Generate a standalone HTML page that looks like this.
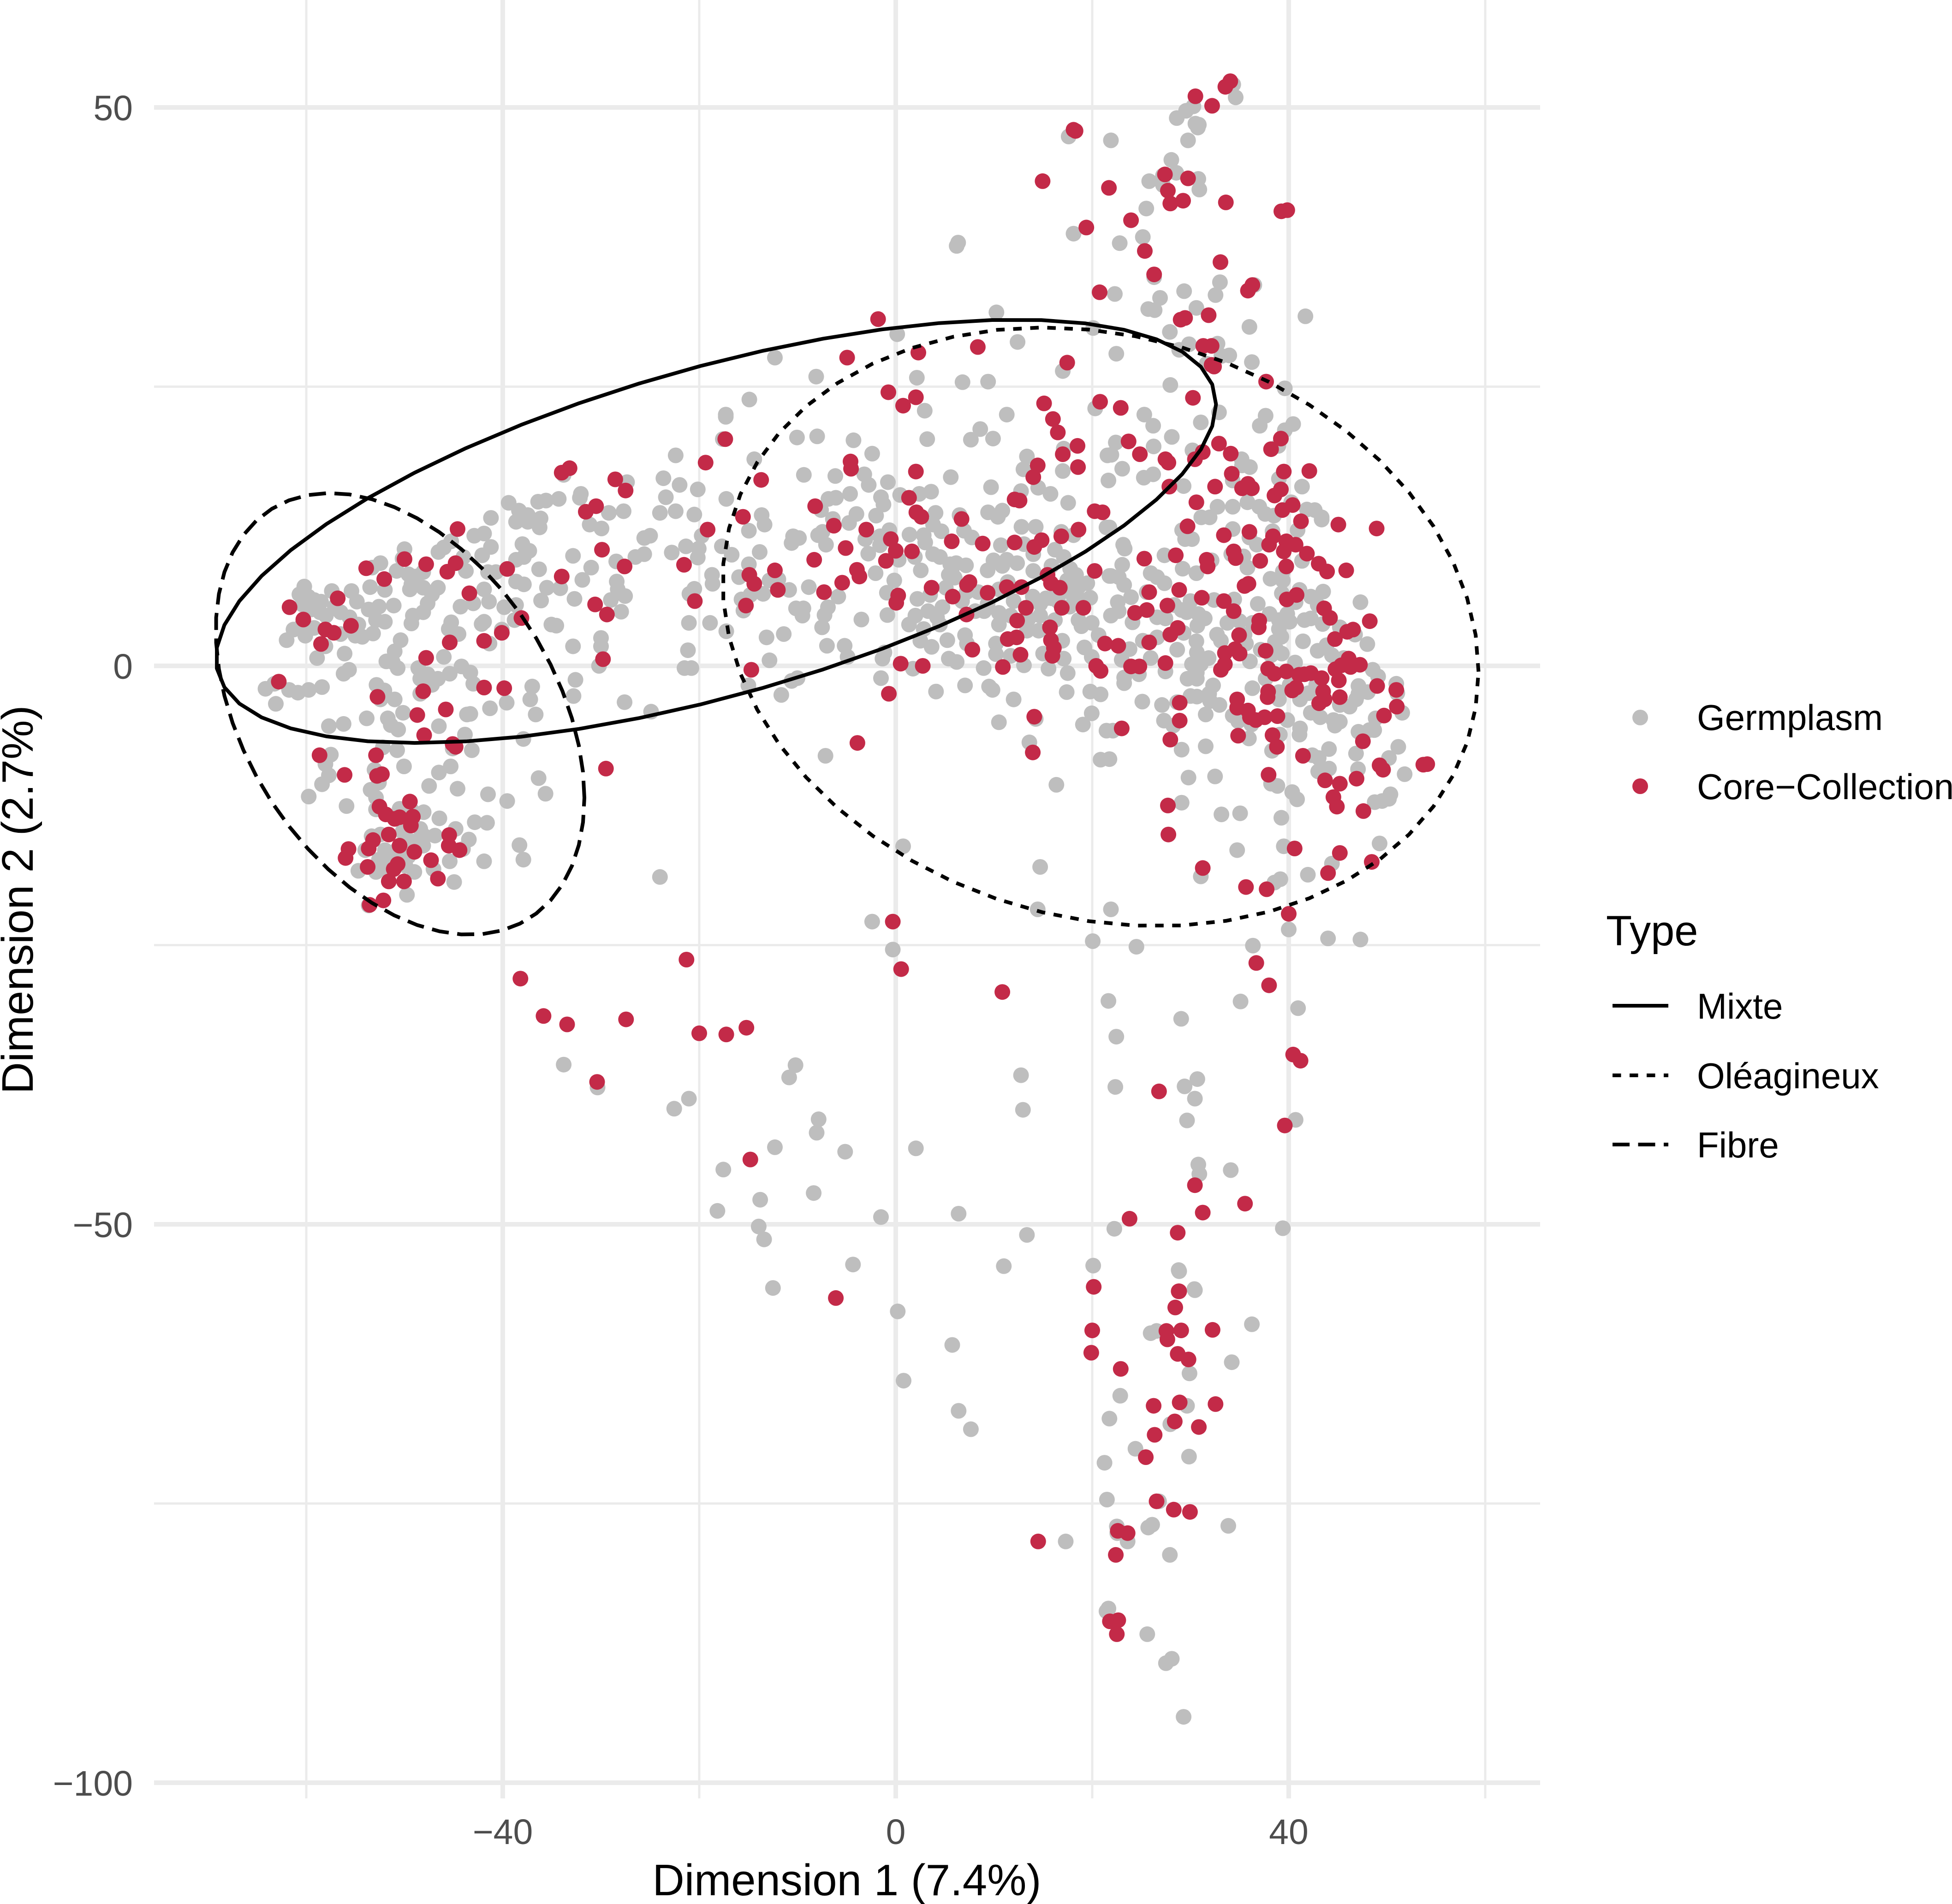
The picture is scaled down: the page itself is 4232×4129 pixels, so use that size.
<!DOCTYPE html>
<html lang="en">
<head>
<meta charset="utf-8">
<title>Core collection vs germplasm scatter plot</title>
<style>
html,body{margin:0;padding:0;background:#fff;width:4232px;height:4129px;overflow:hidden}
svg{display:block}
text{font-family:"Liberation Sans",sans-serif}
.tick{font-size:77px;fill:#4D4D4D}
.title{font-size:96px;fill:#000}
.leg{font-size:78px;fill:#000}
</style>
</head>
<body>
<svg id="chart" xmlns="http://www.w3.org/2000/svg" width="4232" height="4129" viewBox="0 0 4232 4129">
<rect x="0" y="0" width="4232" height="4129" fill="#fff"/>
<g id="grid"></g>
<g id="germplasm"></g>
<g id="core"></g>
<g id="ellipses"></g>
<g id="ticks"></g>
<text class="title" x="1836" y="4110" text-anchor="middle">Dimension 1 (7.4%)</text>
<text class="title" transform="translate(71,1951) rotate(-90)" text-anchor="middle">Dimension 2 (2.7%)</text>
<g>
<circle cx="3556" cy="1556" r="17" fill="#BEBEBE"/>
<text class="leg" x="3679" y="1583">Germplasm</text>
<circle cx="3556" cy="1705" r="17" fill="#C32A48"/>
<text class="leg" x="3679" y="1733">Core−Collection</text>
</g>
<g>
<text x="3482" y="2050" font-size="92" fill="#000">Type</text>
<line x1="3496" x2="3617" y1="2181" y2="2181" stroke="#000" stroke-width="8"/>
<text class="leg" x="3679" y="2209">Mixte</text>
<line x1="3496" x2="3617" y1="2332" y2="2332" stroke="#000" stroke-width="8" stroke-dasharray="18.5 18.5"/>
<text class="leg" x="3679" y="2360">Oléagineux</text>
<line x1="3496" x2="3617" y1="2482" y2="2482" stroke="#000" stroke-width="8" stroke-dasharray="37 18.5"/>
<text class="leg" x="3679" y="2510">Fibre</text>
</g>
</svg>
<script>
const xMajorTicks=[-40,0,40];
const xMinorTicks=[-60,-20,20,60];
const yMajorTicks=[50,0,-50,-100];
const yMinorTicks=[25,-25,-75];
const xTickLabels=["−40","0","40"];
const yTickLabels=["50","0","−50","−100"];
const ellipseNames=["mixte","oleagineux","fibre"];
const ellipseCenterX=[-18.3,20.85,-50.45];
const ellipseCenterY=[12.05,3.5,-4.3];
const ellipseRadiusX=[50.9,38.47,18.76];
const ellipseRadiusY=[18.95,26.8,19.77];
const ellipseCorrelation=[0.6,-0.15,-0.38];
const germplasmPoints=[
[-60.2,7.1],[-60.7,6.4],[-59.8,6.2],[-60.4,5.5],[-59.2,5.9],[-58.5,5.75],[-59.5,5.05],[-58.6,4.8],[-57.4,6.7],[-57.1,5.3],[-58,4.5],[-56.5,4.8],[-55.4,6.7],[-54.85,5.75],[-55.6,4.35],[-54.7,3.7],[-61.3,3.25],[-60.4,3.7],[-60.1,2.7],[-59.2,3.4],[-62,2.3],[-56.5,2.85],[-55,2.7],[-54.3,2.6],[-53.2,2.9],[-53.65,5.05],[-52.6,5.3],[-51.1,5.4],[-52.9,4.1],[-52,3.95],[-58.05,1.75],[-58.9,0.7],[-56.1,1.1],[-55.65,-0.35],[-56.2,-0.7],
[-53.3,8.8],[-52.45,9.2],[-53.5,7.05],[-52,6.8],[-50.8,8.5],[-50,10.45],[-50.2,9.6],[-49.6,8.2],[-48.85,8],[-49.3,7.3],[-48.1,8.4],[-49.45,6.85],[-48.1,7],[-46.6,7],[-47.2,6.4],[-47.65,5.6],[-48.1,4.8],[-49.15,4.5],[-49.3,3.8],[-46.55,10.2],[-46,10.6],[-45.25,11.15],[-42.9,11.65],[-41.9,11.85],[-41.2,10.65],[-42.1,9.9],[-44,9.75],[-43.75,8.5],[-41.5,8.4],[-40.7,8.4],[-41.9,6.85],[-41.4,5.75],[-43,5.6],[-44.3,5.3],[-39.85,5.25],[-38.65,5.45],[-38.8,4.1],[-42.15,3.75],[-41.9,3.95],[-40.1,3.25],[-41.35,2],[-45.25,3.9],[-45.5,3.3],[-44.5,2.85],
[-50.4,2.3],[-51,1.3],[-51.85,0.4],[-50.7,-0.2],[-51.2,0.35],[-46,0.8],[-48.6,-0.2],[-47.65,-0.75],[-48.4,-1.15],[-46.6,-1.15],[-47.2,-1.7],[-45.4,-0.7],[-44.2,-0.05],[-43.3,-0.6],[-43,-1.6],[-48.4,-2.5],[-52.85,-1.7],[-52.05,-2.2],[-52.45,-3],[-51,-3],[-50.15,-4.2],[-53.85,-4.7],[-51.7,-4.7],[-51.4,-5.3],[-50.65,-5.7],[-46.5,-5.4],[-43.65,-4.35],[-43.3,-4.3],[-41.3,-3.8],[-39.6,-3.3],[-37.2,-3],[-37,-1.85],[-36.65,-4.35],[-32.6,-1.25],[-32.8,-2.7],[-27.6,-3.25],[-57.7,-5.4],[-56.2,-5.2],[-43.85,-6.15],[-37.9,-6.55],[-52.2,-7.3],[-50.75,-7.55],[-43.15,-7.55],[-45.1,-7.4],[-57.5,-7.95],[-58.05,-8.8],[-57.7,-9.8],[-58.4,-10.6],[-59.75,-11.7],[-55.9,-12.55],[-50.05,-9],[-45.3,-9],[-46.5,-9.55],[-36.35,-10.05],[-35.65,-11.45],[-41.5,-11.5],[-39.55,-12.1],[-44.6,-11],[-47.5,-10.75],[-53.05,-9.3],[-52.6,-10.45],[-53.45,-11.1],[-52.9,-11.8],[-52.9,-12.85],[-64.15,-2.05],[-63.25,-1.6],[-63.1,-3.4],[-61.75,-2.15],[-60.85,-2.4],[-59.75,-2.15],[-58.4,-1.9],
[-39.4,14.6],[-38.35,13.9],[-38.65,12.9],[-37.45,12.9],[-37.45,13.5],[-36.4,14.7],[-35.6,14.8],[-34.3,14.95],[-36.15,13.2],[-36.25,12.4],[-41.2,13.25],[-38,10.9],[-37.3,10.3],[-38.65,9.5],[-37.85,9.75],[-38.65,7.55],[-37.85,7.3],[-36.3,8.65],[-35.5,7],[-34.15,6.95],[-36.1,5.85],[-32.7,6],[-32.85,9.85],[-32.05,15.4],[-32.15,15.05],[-31.9,7.7],[-31,8.8],[-31.15,12.65],[-29.95,12.3],[-29.2,13.7],[-27.7,13.85],[-28.45,9.35],[-28.4,7.55],[-28.3,6.85],[-27.55,6.25],[-29,5.9],[-27.95,4.85],[-35.05,3.7],[-34.55,3.6],[-32.85,1.75],[-30,2.5],[-30,1.75],[-30.2,0],[-27.35,16.45],[-33.8,17.1],[-25.6,11.45],[-26.5,9.75],[-25.6,10],
[-50.5,-12.8],[-48.05,-13.1],[-46.45,-13.65],[-49.3,-12.9],[-42.85,-14],[-41.6,-14.05],[-53.35,-15.25],[-52.45,-15.1],[-54,-16.5],[-48.4,-14.6],[-47.95,-15.25],[-46.9,-15.2],[-44.8,-14.6],[-43.45,-15.55],[-44.05,-16.4],[-45.4,-17.5],[-48.1,-16.1],[-52,-16.5],[-51.4,-17.05],[-52.6,-17.35],[-52.3,-18.15],[-54.7,-18.35],[-52.9,-18.45],[-49,-18.45],[-49.9,-17.9],[-49.6,-17.05],[-47.05,-18.2],[-44.95,-19.35],[-49.75,-20.5],[-41.9,-17.5],[-38.3,-16.05],[-37.9,-17.35],[-53.65,-21.45],[-50.8,-16.5],[-50.2,-14.85],[-49.3,-15.7],[-49.9,-14],
[-8.1,25.9],[2.15,25.8],[6.8,25.4],[9.4,25.45],[2.95,22.85],[20.3,23.05],[-14.9,23.85],[-17.3,22.5],[-17.3,22.3],[-17.6,20.3],[11.3,22.5],[8.6,21.2],[7.65,20.25],[9.9,20.35],[3.2,20.3],[-10.05,20.45],[-8,20.55],[-4.3,20.2],[-2.4,19],[-22.4,18.85],[-14.4,18.5],[13.35,18.75],[17.1,19.45],[17,17.45],[21.55,18.85],[-23.65,16.8],[-22,16.2],[-20.15,15.8],[-23.4,15.1],[-24,13.7],[-22.4,13.85],[-20.5,13.55],[-17.25,14.95],[-9.35,17.1],[-6.15,17],[-3.2,17.15],[-2.75,16.2],[-0.8,16.45],[-4.65,15.4],[-6.85,14.95],[-6.1,15.05],[-1.5,15.1],[-1.25,14.45],[-2,13.45],[-4,13.6],[-4.75,12.8],[-7.6,13.95],[-6.4,13.15],[-13.65,13.5],[-13.35,12.65],[-14.95,12.1],[-25,11.65],[-19.75,11.65],[-21.35,10.7],[-20.05,10.5],[-22.8,10.15],[-20.15,9.7],[-17.7,10.7],[-16.7,9.95],[-13.85,10.2],[-14.95,9.1],[-18.7,8.15],[-18.65,7.35],[-20.5,6.9],[-21,6.45],[-15.95,7.95],[-12.85,7.65],[-11.95,7.75],[-10.85,6.8],[-13.5,6.45],[-15.7,5.95],[-14.8,6.35],[-15.5,4.95],
[-10.45,11.6],[-9.85,11.45],[-10.6,11],[-7.9,11.7],[-7.45,12],[-7.1,10.85],[-3.1,11.35],[-2.8,10.05],[-1.6,11.6],[-1.6,10.8],[-0.65,12.15],[0.3,9.5],[1.4,11.75],[1.95,9.75],[3,11.05],[2.85,11.7],[3.8,10],[3.8,12.65],[4.05,13.7],[4.65,12.05],[0.45,15.3],[2.4,15.4],[3.6,15.6],[6.5,13.5],[5.6,16.9],[9.7,16],[12.75,15.65],[13,17.6],[14.5,15.95],[15.75,15.4],[17.55,14.6],[9.4,13.75],[10.4,13.35],[10.85,13.9],[12.8,12.45],[14.25,12.45],[6.95,12.1],[7.75,11.5],[10.7,10.8],[13.05,10.9],[16.85,12],[18.1,11.7],[21.45,12.4],[9.95,9.45],[9.35,8.55],[11.3,9.5],[12.35,9.2],[10.85,8.95],[14,10],[14,8.5],[16.2,10.4],[17.1,9.75],[15.85,8.95],[17.75,8.7],[18.35,8.15],[18.65,7.1],[17.45,7.65],[21.75,8.05],[5.55,9.1],[6.15,9.2],[7.15,9],[5.4,8.15],[2.55,8.55],[-2.05,8.3],[-0.15,7.65],[5.1,7],[8.4,6.6],[11.4,7.5],[-0.9,6.55],[2.2,6],[3.5,6.35],[4.75,5.25],[6.75,5.8],[12,5.8],[13.95,6.2],[15.3,6.05],[19.8,6.1],
[-8.85,7.05],[-5.85,6.2],[-6.9,5.25],[-10.15,5.15],[-9.4,5.15],[-9.5,4.5],[-7.25,4.55],[-7.5,3.45],[-0.85,4.55],[-3.5,4.15],[2,4.5],[3.3,4.9],[4.2,4.35],[1.35,3.7],[2.85,3.3],[4.5,3.7],[8.1,4.9],[9,4.9],[10.5,4.75],[10.5,3.7],[11.7,4.5],[13.5,4.2],[14.7,4.5],[13.35,3.15],[14.55,3.15],[16.2,4.1],[18.6,4.1],[18.9,3.55],[19.95,3.85],[20.65,2.75],[-21.05,3.85],[-18.9,3.85],[-17.25,3.1],[-13.15,2.55],[-11.4,2.85],[-21.15,1.4],[-21.5,-0.2],[-20.8,-0.2],[-12.85,0.5],[-7,1.8],[-5.2,1.8],[-4.9,0.8],[-1.15,1.2],[-1.35,0.65],[2.5,2.25],[3.65,1.7],[5.25,2.3],[7.05,2.75],[7.25,2],[10.2,2],[10.2,1.05],[11.7,0.9],[5.4,0.65],[6.2,0.35],[8.95,-0.2],[13.05,0.05],[15,1.1],[15.55,-0.25],[16.95,2.25],[17.1,0.65],[19.2,1.65],[19.95,0.8],[17.5,-0.65],[17.4,-2.35],[19.8,-2.3],[20.85,-2.55],[19.95,-4.25],[19.05,-5.25],[1.75,-0.25],[-1.5,-1.1],[-15,-1.75],[-10.6,-1.35],[-10,-1.1],[-11.65,-2.6],[-24.9,-4.1],[4.1,-2.3],[7.05,-1.75],[9.5,-1.85],[9.85,-2.15],[12,-3],[10.5,-5.05],[14.25,-4.75],[13.6,-6.85],[-7.15,-8.05],[16.35,-10.65],[20.85,-8.4],[21.45,-5.8],[14.7,5.55],[16.5,5.8],[17.7,6.6],[18.6,6.05],[15.9,6.05],[10.5,6.85],[17.7,5.3],[18.3,7.5],[19.5,7.4],[5.7,8.45],[6,7.9],[7.2,6.6],[4.5,9.75],[9.35,5.55],
[23.05,17.65],[21.65,16.6],[25.25,16.85],[26.2,17.15],[29.3,16.1],[35.25,17.95],[36.05,17.8],[41.35,16.05],[39,16.75],[34.3,16.6],[32.75,14.25],[34.3,14.25],[35.8,14.65],[37,14.25],[31.1,13.3],[31.95,13.3],[37.6,13.6],[38.5,13.45],[40.25,14.65],[41.85,14],[42.65,13.95],[43.35,13.3],[43.35,13.1],[40.9,12.15],[38.35,12.05],[34.3,12.25],[29.15,12.15],[29.45,11.35],[30.15,11.35],[21.75,12.4],[23.15,10.85],[23.3,10.5],[27.35,9.9],[36,11.5],[36.75,10.85],[34.15,10],[35.4,9.8],[32.15,9.45],[41.35,9.4],[29.2,8.7],[30.6,8.3],[35.8,8.8],[23.05,9.05],[25.95,8.3],[26.6,7.95],[27.35,7.4],[21.9,8.05],[22.7,7.95],[23.25,7.25],[25.55,6.6],[39.4,8.45],[38.15,7.8],[39.4,7.65],[39.3,6.5],[41.1,6.8],[40.7,5.7],[42.25,6.2],[43.5,6.65],[42.95,5.45],[47.3,5.7],[34.45,5.95],[32.4,5.9],[23.95,6.15],[22.6,5.7],[30,5.8],[29.1,5],[30.8,4.65],[31.45,4.25],[30.7,3.6],[28.35,5.45],[26.6,4.35],[24.1,3.9],[21.9,4.5],[22.7,4.9],[27.45,4.25],[29.6,4.8],[36.85,5.55],[38.05,4.65],[39,4.1],[39.85,4.65],[40.1,3.95],[41.6,4.1],[42.25,4.25],[43.45,3.75],[45.2,3.45],[46.75,2.8],[48,1.95],[41.45,2.2],[39.25,2.6],[38.6,2.15],[39,3.3],[36.3,3.85],[33.75,3.85],[35,4],[32.7,2.8],[33.1,2.25],[35.65,2],[30.6,2.2],[29.3,2.95],[26.6,2.55],[25.15,2.25],[28.65,1.45],[30.65,1.2],[31.85,0.7],[30.15,0.15],[31.05,0.15],[30.65,-0.6],[29.7,-1.15],[30.65,-1.15],[32.3,-1.75],[23.8,1.5],[23,0.55],[25.95,0.7],[24.75,-0.75],[23.25,-1.05],[23.25,-1.55],[27.45,-0.5],[36.05,0.4],[37.15,1.45],[39.3,1.1],[40.65,0.3],[42.95,1.35],[44.4,0.95],[43.85,1.85],[45.6,0.7],[48.55,-0.35],[49.1,-0.95],[47.1,-1.8],[48.05,-2.35],[46.85,-3],[46.2,-3.65],[50.95,-1.6],[51.05,-2.45],[51.55,-4.2],[48.85,-4.7],[48.2,-5.75],[47.1,-5.9],[48.7,-5.75],[36.3,-2],[37.65,-1.15],[39,-2.35],[40.1,-1.7],[41.15,-3],[39,-3],[42.25,-4.2],[43.2,-4.6],[44.55,-4.85],[45.2,-5],[44.7,-5.35],[39.85,-4.85],[41.15,-5.6],[41.1,-6.15],[39.1,-6.15],[35.95,-6.5],[34.3,-4.45],[34.85,-4.95],[36.2,-5.25],[30,-2.7],[30.65,-2.75],[31.9,-2.5],[32,-3.15],[32.95,-3.5],[31.55,-4.35],[28.65,-3.25],[27.1,-3.5],[25.1,-3.2],[27.3,-4.9],[28.25,-5.35],[22.1,-5.8],[21.75,-8.35],[31.55,-7.2],[29.1,-7.5],[38.3,-7.6],[42.4,-8],[43.05,-8.25],[44.1,-7.45],[46.85,-7.85],[51.15,-7.25],[50.2,-8.25],[47.05,-9.25],[44.1,-9.2],[43,-9.45],[51.8,-9.7],[29.8,-10],[32.5,-9.9],[38.2,-10.55],[38.85,-10.75],[40.35,-11.3],[40.85,-11.95],[50.35,-11.5],[49.5,-12.1],[48.75,-12.2],[50.2,-11.9],[29.1,-12.25],[33.15,-13.3],[35.05,-13.2],[39.25,-13.6],[34.75,-16.5],[39.5,-16.15],[44.4,-17.7],[49.25,-15.9],[41.95,-18.7],[31.05,-18.85],[39.15,-19.1],[38.55,-19.4],[21.9,-21.8],[38.75,1.45],[38.2,0.95],[35.5,2.8],[42.8,-1.7],[42,-2.45],[47.1,-2.5],[45.2,-3.5],
[34.6,50.9],[34.35,52.05],[30.3,50.1],[29.55,49.7],[28.6,49.05],[30.5,48.55],[30.85,48.45],[30.75,48.2],[29.75,47.05],[17.6,47.4],[21.9,47.05],[28.05,45.3],[28.55,44.15],[27.2,43.9],[25.8,43.4],[27.2,43.05],[30.8,43.6],[30.9,42.65],[25.5,40.95],[18.1,38.7],[25.15,38.4],[22.8,37.85],[26.3,34.8],[33,34.35],[32.55,33.2],[29.35,33.55],[26.9,32.95],[22.3,33.3],[36.5,34.1],[25.7,31.95],[26.35,31.85],[30.6,32.05],[41.7,31.3],[10.25,31.65],[36,30.35],[20.1,30.25],[27.9,29.9],[12.4,29],[29.85,28.8],[28.85,28.3],[32.75,28.85],[33.95,27.8],[33.15,27.75],[36.25,27.2],[22.45,27.95],[31.65,27.05],[17,26.4],[39.6,24.85],[27.95,25.15],[32.9,22.7],[31.05,21.8],[25.3,22.5],[26.2,21.5],[28.1,20.5],[37.65,22.4],[37.05,21.5],[40.45,21.65],[39.6,21.1],[38.95,19.7],[22.4,20],[21.95,18.9],[26.25,19.65],[30.2,19.3],[35.2,18.5],[-12.3,27.6],[0.15,29.7],[6.2,37.6],[6.35,37.9],
[0.75,-16.15],[14.7,-18],[-24,-18.9],[14.45,-21.8],
[-33.8,-35.7],[-30.35,-37.75],[-22.55,-39.65],[-21.05,-38.75],[-10.2,-35.75],[-10.85,-36.85],[-2.4,-22.9],[-0.3,-25.4],[-7.85,-40.6],[-8.05,-41.8],[-12.3,-43.1],[-5.15,-43.5],[2.05,-43.2],[-17.55,-45.1],[-13.8,-47.8],[-8.35,-47.2],[-18.15,-48.8],[-1.5,-49.35],[6.4,-49.05],[-13.95,-50.2],[-13.4,-51.35],[-4.35,-53.6],[11,-53.75],[-12.5,-55.7],[0.2,-57.8],[5.75,-60.8],[0.8,-64],[6.4,-66.7],[7.65,-68.35],
[20.05,-24.65],[24.5,-25.15],[36.35,-25.05],[40,-23.6],[44,-24.4],[47.3,-24.5],[21.65,-30],[35.1,-30.05],[40.95,-30.65],[29.05,-31.6],[22.45,-33.2],[12.75,-36.65],[22.35,-37.7],[29.4,-37.65],[30.7,-37],[30.45,-38.75],[12.95,-39.75],[29.65,-40.7],[40.7,-40.65],[30.8,-44.65],[30.9,-45.5],[34.1,-45.15],[22.25,-50.4],[39.4,-50.35],[13.35,-50.95],[20.1,-53.7],[28.8,-54.1],[30.4,-55.8],
[28.85,-54.2],[30.45,-55.9],[25.95,-59.75],[26.55,-59.55],[36.25,-58.95],[34.2,-62.35],[29.9,-63.35],[22.85,-65.35],[29.65,-66.25],[21.75,-67.4],[27.95,-67.9],[24.4,-70.1],[29.85,-70.8],[21.25,-71.35],[21.5,-74.65],[26.8,-74.8],[22.5,-77.05],[22.55,-77.65],[23.6,-78.4],[26.1,-76.9],[25.7,-77.15],[33.85,-77],[17.3,-78.4],[27.9,-79.6],[21.65,-84.4],[21.45,-84.65],[25.6,-86.7],[28.1,-88.9],[27.5,-89.3],[29.3,-94.1]
];
const coreCollectionPoints=[
[-61.7,5.25],[-60.3,4.15],[-56.8,6.05],[-58.05,3.26],[-57.2,2.96],[-55.45,3.59],[-58.5,1.96],[-53.9,8.74],[-52.06,7.77],[-50,9.56],[-47.8,9.1],[-45.65,8.43],[-44.8,9.2],[-44.6,12.25],[-43.4,6.5],[-39.55,8.68],[-38.1,4.28],[-40.1,2.96],[-41.9,2.24],[-45.4,2.1],[-47.8,0.72],[-48.1,-2.27],[-41.9,-1.94],[-39.85,-2],[-52.75,-2.77],[-62.8,-1.41],[-48.7,-4.4],[-45.8,-3.9],[-48,-6.2],[-45.1,-7],[-44.8,-7.25],[-58.65,-8],[-52.9,-8],[-52.3,-9.7],[-52.8,-9.85],[-56.1,-9.76],[-29.5,-9.2],[-29.9,10.4],[-27.6,8.9],[-34,8],[-30.6,5.5],[-29.4,4.6],[-29.8,0.6],[-34,17.3],[-33.2,17.7],[-28.55,16.7],[-27.5,15.7],[-31.55,13.8],[-30.5,14.3],
[-49.45,-12.15],[-52.55,-12.6],[-51.9,-13.3],[-51,-13.7],[-50.5,-13.55],[-49.15,-13.5],[-49.35,-14.3],[-51.6,-15.1],[-53.2,-15.6],[-53.65,-16.35],[-55.7,-16.4],[-56,-17.2],[-50.5,-16.1],[-49,-16.65],[-45.45,-15.15],[-45.5,-16.1],[-44.4,-16.5],[-47.3,-17.4],[-53.75,-18],[-50.7,-17.75],[-51.1,-18.2],[-51.6,-19.3],[-50.05,-19.3],[-46.6,-19.05],[-53.55,-21.4],[-52.15,-21],
[-0.75,24.5],[0.75,23.3],[2.05,24.05],[-17.35,20.3],[-19.35,18.2],[-13.7,16.65],[-4.6,18.3],[-4.55,17.65],[2.05,17.4],[15.1,23.5],[16,22.1],[16.5,20.9],[18.5,19.7],[17,18.95],[18.55,17.8],[20.8,23.65],[-8.2,14.3],[-6.3,12.55],[-15.55,13.35],[-19.15,12.2],[1.35,15.05],[2.1,13.75],[2.6,13.35],[6.7,13.15],[14.45,17.95],[14,16.9],[12.1,14.9],[12.6,14.8],[20.25,13.85],[21.05,13.75],[18.6,12.2],[16.85,11.6],[14.85,11.25],[14.1,10.65],[12.1,11.05],[8.85,10.95],[5.7,11.15],[-3,12.2],[-0.5,11.35],[-5.1,10.55],[0,10.3],[1.65,10.25],[-1,9.4],[-8.3,9.5],[-21.55,9.05],[-3.95,8.6],[-3.7,8],[-12.3,8.55],[-14.9,8.15],[-14.4,7.35],[-12,6.8],[-5.45,7.45],[-7.3,6.6],[-20.45,5.8],[-15.25,5.4],[0.25,6.3],[0.05,5.65],[3.65,7],[5.8,6.2],[7.5,7.5],[7.25,7.25],[9.35,6.55],[11.3,7.05],[12.8,7.05],[15.45,8.15],[15.8,7.4],[16.7,7],[20.25,8.5],[13.25,5.2],[16.9,5.2],[19.1,5.2],[7.2,4.6],[12.35,4.05],[15.7,3.45],[11.4,2.4],[12.3,2.55],[15.8,2.3],[16.1,1.6],[15.95,0.9],[12.7,1],[7.8,1.45],[21.3,2],[20.4,0],[20.85,-0.45],[10.9,-0.1],[0.5,0.2],[2.75,0],[-14.7,-0.35],[-0.7,-2.5],[14.1,-4.55],[13.95,-7.75],[-3.9,-6.9],
[27.75,18.2],[39.5,17.4],[42.1,17.45],[34.2,17.2],[27.85,16.05],[32.5,16.05],[35.85,16.3],[35.25,15.9],[36.25,15.9],[39.2,15.8],[38.55,15.25],[30.6,14.65],[40.4,14.4],[39.35,13.95],[41.25,12.95],[45.05,12.65],[48.95,12.3],[29.7,12.5],[36,12],[33.4,11.7],[38.4,11.6],[39.75,11.15],[40.7,10.85],[38,10.85],[39.5,10.25],[34.4,10.25],[34.6,9.65],[41.85,10.05],[31.65,9.5],[31.75,8.9],[28.5,9.9],[25.3,9.6],[37.1,9.4],[39.75,8.9],[43.05,9.15],[43.9,8.45],[45.85,8.55],[35.9,7.35],[35.5,7.15],[28.85,6.8],[25.8,6.6],[40.8,6.35],[39.8,5.95],[31.15,6.1],[33.4,5.8],[27.65,5.4],[25.55,5],[24.35,4.75],[34.4,4.9],[43.6,5.15],[44.2,4.3],[37,4.05],[36.95,3.45],[48.25,4],[46.55,3.25],[45.95,3.05],[28.7,3.4],[27.95,2.8],[34.95,2.75],[44.7,2.4],[25.8,2.1],[22.65,1.8],[34.55,1.5],[33.5,1.15],[35,1.1],[37.65,1.35],[46.1,0.65],[47.25,0.1],[45.35,0.05],[44.75,-0.3],[46.3,-0.1],[27.45,0.25],[23.95,-0.05],[24.8,-0.05],[33.5,0.15],[33.1,-0.35],[37.9,-0.25],[38.55,-0.7],[39.75,-0.5],[41.05,-0.8],[42.25,-0.65],[41.6,-0.75],[43.35,-1.1],[45.1,-1.3],[40.75,-1.95],[40.35,-2.2],[37.9,-2.3],[37.85,-2.8],[43.5,-2.3],[43.65,-3],[45.2,-2.8],[43.1,-3.35],[49,-1.8],[50.95,-2.15],[51,-3.65],[49.7,-4.45],[34.75,-3],[34.75,-3.75],[35.85,-4],[36.05,-4.6],[36.65,-4.85],[37.55,-4.6],[38.85,-4.5],[28.9,-3.3],[28.9,-4.9],[23,-5.6],[27.95,-6.6],[34.85,-6.25],[38.35,-6.2],[38.8,-7.25],[47.55,-6.75],[41.45,-8.05],[53.7,-8.85],[54.1,-8.8],[49.25,-8.9],[49.6,-9.3],[37.95,-9.75],[43.7,-10.25],[45.2,-10.55],[46.9,-10.1],[44.55,-11.75],[44.9,-12.6],[47.6,-13],[27.7,-12.5],[27.75,-15.1],[40.6,-16.35],[45.2,-16.75],[31.25,-18.1],[44,-18.55],[48.45,-17.55],[35.65,-19.8],[37.75,-20],[40,-22.2],
[34.05,52.35],[33.55,51.85],[30.5,51],[32.2,50.15],[18.1,48],[18.3,47.9],[14.95,43.4],[27.4,44],[29.75,43.65],[21.7,42.8],[27.7,42.55],[29.25,41.65],[27.95,41.4],[33.6,41.5],[39.25,40.7],[39.85,40.8],[23.95,39.9],[19.4,39.25],[25.35,37.15],[33.05,36.15],[26.3,35.05],[20.75,33.45],[36.3,34.1],[35.85,33.6],[29,31],[29.45,31.15],[31.85,31.4],[8.35,28.55],[31.3,28.65],[32.15,28.65],[17.45,27.15],[32.15,26.95],[32.4,26.8],[37.7,25.45],[30.25,24],[22.9,23.1],[23.7,20.1],[32.9,19.9],[31.25,19.15],[34.1,19],[39.2,20.35],[38.2,19.4],[24.85,18.95],[27.45,18.5],[30.45,18.5],[-1.8,31.05],[-4.95,27.6],[2.3,28.05],
[-38.2,-28],[-35.85,-31.35],[-33.45,-32.1],[-27.45,-31.65],[-21.3,-26.3],[-20,-32.9],[-17.25,-33],[-15.2,-32.4],[-30.4,-37.25],[-14.8,-44.2],[-0.3,-22.9],[0.55,-27.15],[10.85,-29.2],[-6.1,-56.6],
[36.7,-26.6],[38,-28.6],[40.45,-34.8],[41.2,-35.35],[26.8,-38.1],[39.6,-41.15],[30.45,-46.5],[35.55,-48.15],[31.25,-48.95],[23.8,-49.5],[28.7,-50.75],[20.15,-55.6],[28.8,-56],
[28.85,-56],[28.45,-57.45],[20,-59.5],[19.9,-61.5],[27.55,-59.55],[29.05,-59.5],[27.65,-60.3],[32.25,-59.45],[28.7,-61.6],[29.8,-62.1],[22.9,-62.95],[26.25,-66.25],[28.9,-65.95],[32.55,-66.1],[28.4,-67.65],[30.85,-68.15],[26.35,-68.85],[25.45,-70.85],[26.55,-74.8],[28.3,-75.55],[29.95,-75.75],[22.6,-77.45],[23.6,-77.65],[14.5,-78.4],[22.4,-79.6],[21.8,-85.55],[22.65,-85.45],[22.5,-86.7]
];

const NS='http://www.w3.org/2000/svg';
const panelLeft=334,panelRight=3339,panelTop=0,panelBottom=3900;
function xScale(v){return 1942+21.3*v;}
function yScale(v){return 1444-24.22*v;}
function make(tag,parent,attrs){
  const el=document.createElementNS(NS,tag);
  for(const k in attrs){el.setAttribute(k,attrs[k]);}
  parent.appendChild(el);
  return el;
}
const gridG=document.getElementById('grid');
xMinorTicks.forEach(function(v){
  const el=make('line',gridG,{x1:xScale(v),x2:xScale(v),y1:panelTop,y2:panelBottom,stroke:'#EBEBEB','stroke-width':5});
  
  
});
yMinorTicks.forEach(function(v){
  const el=make('line',gridG,{x1:panelLeft,x2:panelRight,y1:yScale(v),y2:yScale(v),stroke:'#EBEBEB','stroke-width':5});
  
  
});
xMajorTicks.forEach(function(v){
  const el=make('line',gridG,{x1:xScale(v),x2:xScale(v),y1:panelTop,y2:panelBottom,stroke:'#EBEBEB','stroke-width':10});
  
  
});
yMajorTicks.forEach(function(v){
  const el=make('line',gridG,{x1:panelLeft,x2:panelRight,y1:yScale(v),y2:yScale(v),stroke:'#EBEBEB','stroke-width':10});
  
  
});
const germG=document.getElementById('germplasm');
germplasmPoints.forEach(function(p){
  const el=make('circle',germG,{cx:xScale(p[0]).toFixed(1),cy:yScale(p[1]).toFixed(1),r:17,fill:'#BEBEBE'});
  
  
});
const coreG=document.getElementById('core');
coreCollectionPoints.forEach(function(p){
  const el=make('circle',coreG,{cx:xScale(p[0]).toFixed(1),cy:yScale(p[1]).toFixed(1),r:17,fill:'#C32A48'});
  
  
});
const ellipseDash=['none','18.5 18.5','37 18.5'];
const ellG=document.getElementById('ellipses');
ellipseNames.forEach(function(name,i){
  const pts=[];
  const rho=ellipseCorrelation[i];
  const s=Math.sqrt(1-rho*rho);
  for(let k=0;k<51;k++){
    const t=2*Math.PI*k/51;
    const dx=ellipseCenterX[i]+ellipseRadiusX[i]*Math.cos(t);
    const dy=ellipseCenterY[i]+ellipseRadiusY[i]*(rho*Math.cos(t)+s*Math.sin(t));
    pts.push(xScale(dx).toFixed(1)+','+yScale(dy).toFixed(1));
  }
  const el=make('polygon',ellG,{points:pts.join(' '),fill:'none',stroke:'#000','stroke-width':8,'stroke-dasharray':ellipseDash[i],'stroke-linejoin':'round'});
  
  
});
const tickG=document.getElementById('ticks');
xMajorTicks.forEach(function(v,i){
  const el=make('text',tickG,{x:xScale(v),y:3999,'text-anchor':'middle','class':'tick'});
  el.textContent=xTickLabels[i];
  
  
});
yMajorTicks.forEach(function(v,i){
  const el=make('text',tickG,{x:288,y:yScale(v)+28,'text-anchor':'end','class':'tick'});
  el.textContent=yTickLabels[i];
  
  
});
</script>
</body>
</html>
